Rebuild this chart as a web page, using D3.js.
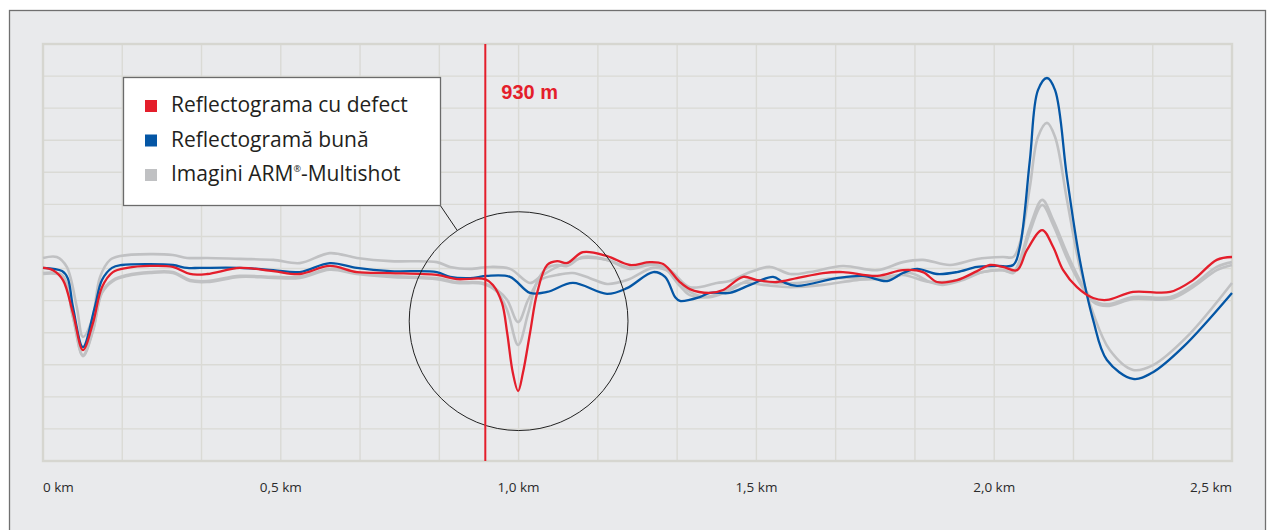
<!DOCTYPE html>
<html>
<head>
<meta charset="utf-8">
<script src="https://cdn.jsdelivr.net/npm/d3@7"></script>
<style>
  body { margin: 0; background: #fff; }
  svg { display: block; }
</style>
</head>
<body>
<div id="chart"></div>
<script>
// distance in metres, level in grid units (one unit per horizontal grid line)
const defectPts = [[0,6.02],[21,5.95],[42,5.64],[63,4.61],[84,3.46],[105,4.30],[124,5.42],[147,5.89],[177,6.02],[225,6.08],[273,6.05],[309,5.83],[345,5.83],[414,6.02],[484,5.92],[540,5.83],[603,6.08],[660,5.89],[730,5.86],[828,5.80],[870,5.67],[929,5.67],[946,5.49],[965,4.93],[976,3.99],[988,2.74],[999,2.18],[1009,2.74],[1024,3.99],[1039,5.24],[1060,6.11],[1081,6.23],[1102,6.17],[1135,6.51],[1186,6.39],[1234,6.11],[1276,6.20],[1304,6.14],[1339,5.58],[1360,5.36],[1402,5.24],[1430,5.33],[1472,5.74],[1501,5.64],[1543,5.58],[1585,5.70],[1640,5.86],[1682,5.89],[1754,5.77],[1808,5.95],[1850,5.89],[1880,5.58],[1922,5.64],[1964,5.92],[1991,6.11],[2018,6.05],[2048,5.95],[2069,6.58],[2101,7.20],[2124,6.67],[2145,5.95],[2174,5.42],[2208,5.08],[2237,5.02],[2292,5.27],[2370,5.27],[2418,5.64],[2468,6.27],[2500,6.36]];

const goodPts = [[0,6.02],[40,5.92],[52,5.70],[63,4.80],[84,3.55],[109,4.80],[124,5.64],[145,6.02],[166,6.11],[225,6.14],[273,6.11],[303,6.02],[330,6.02],[414,6.02],[484,5.95],[540,5.89],[603,6.17],[660,6.02],[730,5.92],[828,5.89],[856,5.74],[898,5.70],[933,5.77],[982,5.74],[1024,5.24],[1060,5.27],[1114,5.55],[1186,5.21],[1228,5.39],[1283,5.89],[1308,5.74],[1329,5.11],[1339,4.99],[1381,5.11],[1402,5.24],[1444,5.24],[1487,5.49],[1535,5.74],[1556,5.58],[1585,5.46],[1669,5.70],[1724,5.77],[1775,5.61],[1808,5.86],[1838,5.99],[1880,5.83],[1922,5.89],[1964,6.05],[2006,6.08],[2040,6.11],[2054,6.67],[2075,9.38],[2092,11.56],[2111,11.94],[2128,11.56],[2153,8.85],[2180,6.27],[2208,4.40],[2237,3.15],[2292,2.56],[2334,2.77],[2397,3.55],[2500,5.24]];

const shotA = [[0,6.33],[29,6.36],[50,6.05],[71,4.80],[84,3.87],[103,4.40],[120,5.74],[141,6.27],[162,6.39],[225,6.45],[273,6.42],[303,6.33],[345,6.33],[414,6.30],[484,6.27],[540,6.17],[603,6.48],[660,6.33],[730,6.23],[828,6.20],[856,6.05],[898,5.99],[940,6.05],[982,5.99],[1024,5.55],[1045,5.74],[1081,6.05],[1135,6.33],[1186,6.27],[1234,6.02],[1276,6.14],[1318,5.95],[1360,5.42],[1417,5.55],[1444,5.61],[1487,5.89],[1529,6.05],[1571,5.83],[1613,5.89],[1682,6.08],[1754,5.95],[1808,6.20],[1850,6.27],[1907,6.11],[1964,6.30],[2018,6.36],[2040,6.36],[2054,6.80],[2075,8.54],[2092,10.10],[2111,10.54],[2128,10.10],[2153,8.14],[2180,6.05],[2208,4.61],[2243,3.46],[2292,2.84],[2334,2.99],[2405,3.87],[2500,5.55]];

const shotB = [[0,5.86],[40,5.80],[63,4.49],[84,3.30],[105,4.08],[124,5.27],[147,5.64],[177,5.80],[225,5.89],[273,5.89],[309,5.64],[345,5.61],[414,5.77],[484,5.74],[540,5.74],[603,5.99],[660,5.86],[730,5.77],[828,5.70],[870,5.58],[925,5.55],[955,5.33],[976,5.02],[999,4.33],[1020,5.02],[1045,5.64],[1081,5.80],[1114,5.86],[1150,5.70],[1186,5.52],[1228,5.64],[1283,6.02],[1318,5.89],[1360,5.27],[1402,5.11],[1444,5.33],[1487,5.64],[1535,5.55],[1585,5.55],[1669,5.70],[1754,5.70],[1808,5.80],[1865,5.58],[1922,5.64],[1976,5.89],[2018,5.95],[2040,5.89],[2054,6.27],[2075,7.29],[2101,8.14],[2124,7.51],[2153,6.48],[2180,5.64],[2208,5.02],[2237,4.89],[2292,5.11],[2370,5.11],[2418,5.49],[2468,6.05],[2500,6.20]];

const shotC = [[0,5.83],[40,5.77],[63,4.49],[84,3.27],[105,4.05],[124,5.24],[147,5.61],[177,5.77],[225,5.86],[273,5.86],[309,5.61],[345,5.58],[414,5.74],[484,5.71],[540,5.71],[603,5.96],[660,5.83],[730,5.74],[828,5.67],[870,5.55],[925,5.52],[955,5.27],[976,4.70],[999,3.62],[1020,4.60],[1039,5.60],[1060,6.02],[1081,6.11],[1102,6.08],[1135,6.36],[1186,6.27],[1234,5.99],[1276,6.11],[1304,6.05],[1339,5.46],[1360,5.17],[1396,5.11],[1430,5.27],[1472,5.55],[1514,5.49],[1571,5.42],[1640,5.49],[1711,5.64],[1781,5.70],[1823,5.86],[1865,5.58],[1892,5.49],[1934,5.64],[1976,5.89],[2018,5.95],[2040,5.86],[2054,6.20],[2075,7.14],[2101,7.98],[2124,7.36],[2153,6.33],[2180,5.55],[2208,4.96],[2237,4.83],[2292,5.05],[2370,5.05],[2418,5.42],[2468,5.95],[2500,6.11]];

const xTicks = [0, 500, 1000, 1500, 2000, 2500];
const xTickLabels = ['0 km', '0,5 km', '1,0 km', '1,5 km', '2,0 km', '2,5 km'];
const defectAt = 930;
const defectLabel = '930 m';
const legendNames = ['Reflectograma cu defect', 'Reflectogramă bună', 'Imagini ARM'];

const W = 1267, H = 530;
const margin = {top: 44, right: 35, bottom: 69, left: 43};
const width = W - margin.left - margin.right,
      height = H - margin.top - margin.bottom;

const red = '#e41e2b', blue = '#0456a5', grey = '#c0c1c3';

const svg = d3.select('#chart').append('svg').attr('width', W).attr('height', H);

svg.append('rect')
    .attr('x', 9.5).attr('y', 10.5)
    .attr('width', 1256).attr('height', 540)
    .attr('fill', '#e9eaec')
    .attr('stroke', '#707070')
    .attr('stroke-width', 1.3);

const x = d3.scaleLinear().domain([0, 2500]).range([0, width]);
const y = d3.scaleLinear().domain([0, 13]).range([height, 0]);

const g = svg.append('g').attr('transform', `translate(${margin.left},${margin.top})`);

// grid
g.append('g')
    .selectAll('line')
    .data(d3.range(0, 2500.1, 2500 / 15))
    .join('line')
    .attr('x1', d => x(d)).attr('x2', d => x(d))
    .attr('y1', 0).attr('y2', height)
    .attr('stroke', '#dadad5').attr('stroke-width', 1.4);

g.append('g')
    .selectAll('line')
    .data(d3.range(0, 14))
    .join('line')
    .attr('x1', 0).attr('x2', width)
    .attr('y1', d => y(d)).attr('y2', d => y(d))
    .attr('stroke', '#dadad5').attr('stroke-width', 1.4);

g.append('rect')
    .attr('width', width).attr('height', height)
    .attr('fill', 'none')
    .attr('stroke', '#d6d6d0').attr('stroke-width', 2.4);

// x labels
g.append('g')
    .selectAll('text')
    .data(xTicks)
    .join('text')
    .attr('x', d => x(d))
    .attr('y', height + 31)
    .attr('text-anchor', (d, i) => i === 0 ? 'start' : (i === xTicks.length - 1 ? 'end' : 'middle'))
    .attr('font-family', 'Open Sans, sans-serif')
    .attr('font-size', 13.5)
    .attr('fill', '#2b2b2b')
    .text((d, i) => xTickLabels[i]);

const line = d3.line()
    .x(d => x(d[0]))
    .y(d => y(d[1]))
    .curve(d3.curveCatmullRom.alpha(0.5));

[shotA, shotB, shotC].forEach(s => {
    g.append('path')
        .datum(s)
        .attr('fill', 'none')
        .attr('stroke', grey)
        .attr('stroke-width', 2.6)
        .attr('d', line);
});

g.append('path')
    .datum(goodPts)
    .attr('fill', 'none')
    .attr('stroke', blue)
    .attr('stroke-width', 2.3)
    .attr('d', line);

g.append('path')
    .datum(defectPts)
    .attr('fill', 'none')
    .attr('stroke', red)
    .attr('stroke-width', 2.3)
    .attr('d', line);

// magnifier circle around the defect
const cx = x(1000), cy = y(4.36), r = x(230) - x(0);
g.append('circle')
    .attr('cx', cx).attr('cy', cy).attr('r', r)
    .attr('fill', 'none')
    .attr('stroke', '#222').attr('stroke-width', 1);

// defect marker
g.append('line')
    .attr('x1', x(defectAt)).attr('x2', x(defectAt))
    .attr('y1', 0).attr('y2', height)
    .attr('stroke', red).attr('stroke-width', 2);

g.append('text')
    .attr('x', x(defectAt) + 16)
    .attr('y', 55)
    .attr('font-family', 'Liberation Sans, Arial, sans-serif')
    .attr('font-weight', 'bold')
    .attr('font-size', 20)
    .attr('fill', red)
    .text(defectLabel);

// legend
const lg = {x: 123, y: 77, w: 317, h: 128};
const corner = [lg.x + lg.w - margin.left, lg.y + lg.h - margin.top];
const dx = cx - corner[0], dy = cy - corner[1], dl = Math.hypot(dx, dy);
g.append('line')
    .attr('x1', corner[0]).attr('y1', corner[1])
    .attr('x2', cx - dx / dl * r).attr('y2', cy - dy / dl * r)
    .attr('stroke', '#222').attr('stroke-width', 1);

const legend = svg.append('g').attr('transform', `translate(${lg.x},${lg.y})`);
legend.append('rect')
    .attr('x', 0.5).attr('y', 0.5)
    .attr('width', lg.w).attr('height', lg.h)
    .attr('fill', '#fff')
    .attr('stroke', '#6b6b6b').attr('stroke-width', 1.3);

const colors = [red, blue, grey];
legendNames.forEach((name, i) => {
    legend.append('rect')
        .attr('x', 22).attr('y', 23 + i * 34.5)
        .attr('width', 12).attr('height', 12)
        .attr('fill', colors[i]);
    const t = legend.append('text')
        .attr('x', 48).attr('y', 35 + i * 34.5)
        .attr('font-family', 'Open Sans, sans-serif')
        .attr('font-size', 21)
        .attr('fill', '#231f20')
        .text(name);
    if (i === 2) {
        t.append('tspan').attr('font-size', 9).attr('dy', -9).text('®');
        t.append('tspan').attr('dy', 9).text('-Multishot');
    }
});
</script>
</body>
</html>
